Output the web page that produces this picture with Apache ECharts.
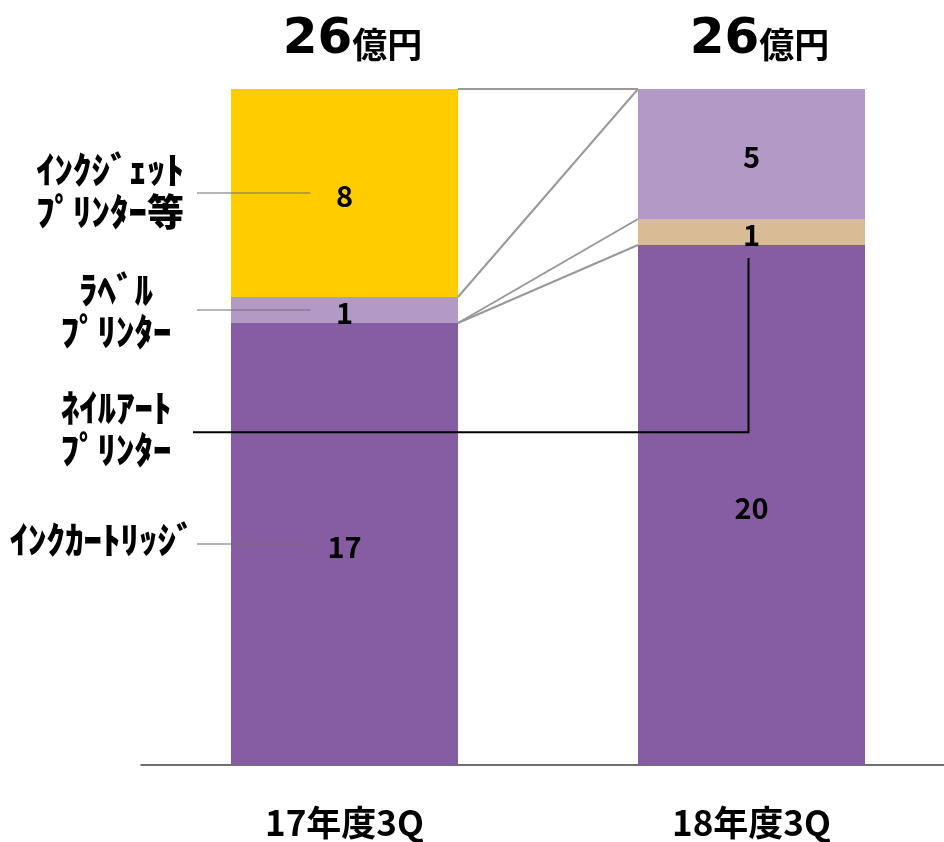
<!DOCTYPE html>
<html>
<head>
<meta charset="utf-8">
<script src="https://cdn.jsdelivr.net/npm/echarts@6/dist/echarts.min.js"></script>
<style>
  html, body { margin: 0; padding: 0; background: #fff; }
  #chart { width: 944px; height: 842px; }
</style>
</head>
<body>
<div id="chart"></div>
<script>
const categories = ['17年度3Q', '18年度3Q']
const cartridge = [17, 20]
const nailArt = ['-', 1]
const labelPrinter = [1, 5]
const inkjet = [8, '-']
const totalLabel = '億円'

const FONT = 'Noto Sans CJK JP'
const BAR_W = 227

const chart = echarts.init(document.getElementById('chart'))

function seg (name, data, color) {
  return {
    name: name,
    type: 'bar',
    stack: 'total',
    barWidth: BAR_W,
    data: data,
    itemStyle: { color: color },
    label: {
      show: true,
      position: 'inside',
      color: '#000',
      fontFamily: FONT,
      fontWeight: 'bold',
      fontSize: 29,
      offset: [0, 3]
    },
    emphasis: { disabled: true }
  }
}

chart.setOption({
  animation: false,
  grid: { left: 141, right: -11, top: 89, bottom: 77, outerBoundsMode: 'none', containLabel: false },
  xAxis: {
    type: 'category',
    data: categories,
    axisTick: { show: false },
    axisLine: { lineStyle: { color: '#404040', width: 1.5 } },
    axisLabel: {
      margin: 40,
      color: '#000',
      fontFamily: FONT,
      fontWeight: 'bold',
      fontSize: 35
    }
  },
  yAxis: { type: 'value', min: 0, max: 26, show: false, splitLine: { show: false } },
  series: [
    seg('インクカートリッジ', cartridge, '#865CA2'),
    seg('ネイルアートプリンター', nailArt, '#D9BB95'),
    seg('ラベルプリンター', labelPrinter, '#B399C6'),
    seg('インクジェットプリンター等', inkjet, '#FFCC00')
  ]
})

function px (ci, v) {
  return chart.convertToPixel({ gridIndex: 0 }, [ci, v])
}
function num (v) { return v === '-' ? 0 : v }

const stacks = [cartridge, nailArt, labelPrinter, inkjet]
function cum (ci) {
  let s = 0
  const out = []
  stacks.forEach(function (arr) {
    if (arr[ci] !== '-') { s += num(arr[ci]); out.push(s) }
  })
  return out
}
const leftCum = cum(0)
const rightCum = cum(1)
const half = BAR_W / 2

const graphics = []
const gray = '#999'

// connecting lines between bars
const pairs = [
  [leftCum[2], rightCum[2]],
  [leftCum[1], rightCum[2]],
  [leftCum[0], rightCum[1]],
  [leftCum[0], rightCum[0]]
]
pairs.forEach(function (p) {
  const a = px(0, p[0])
  const b = px(1, p[1])
  graphics.push({
    type: 'line',
    z: 100,
    shape: { x1: a[0] + half, y1: a[1], x2: b[0] - half, y2: b[1] },
    style: { stroke: gray, lineWidth: 2 }
  })
})

// totals above bars
categories.forEach(function (c, ci) {
  const total = stacks.reduce(function (s, arr) { return s + num(arr[ci]) }, 0)
  const p = px(ci, total)
  graphics.push({
    type: 'text',
    z: 100,
    x: p[0] + 8,
    y: p[1] - 49,
    style: {
      text: '{a|' + total + '}{b|' + totalLabel + '}',
      align: 'center',
      verticalAlign: 'middle',
      rich: {
        a: { fontFamily: 'DejaVu Sans', fontWeight: 'bold', fontSize: 50, fill: '#000' },
        b: { fontFamily: FONT, fontWeight: 'bold', fontSize: 35, fill: '#000', padding: [10, 0, 0, 0] }
      }
    }
  })
})

// leader lines from left labels
const leaderYs = [
  (leftCum[1] + leftCum[2]) / 2,
  (leftCum[0] + leftCum[1]) / 2,
  leftCum[0] / 2
]
leaderYs.forEach(function (v) {
  const p = px(0, v)
  graphics.push({
    type: 'line',
    z: 100,
    shape: { x1: 197, y1: p[1], x2: p[0] - 34, y2: p[1] },
    style: { stroke: '#6f6f6f', lineWidth: 1.2 }
  })
})

// nail art leader
const n1 = px(1, 12.8)
const n2 = px(1, 19.5)
graphics.push({
  type: 'polyline',
  z: 100,
  shape: { points: [[193, n1[1]], [n1[0] - 3, n1[1]], [n2[0] - 3, n2[1]]] },
  style: { stroke: '#000', lineWidth: 2, fill: null }
})

// category names on the left
const names = [
  { text: 'ｲﾝｸｼﾞｪｯﾄ\nﾌﾟﾘﾝﾀｰ等', x: 110, y: 191 },
  { text: 'ﾗﾍﾞﾙ\nﾌﾟﾘﾝﾀｰ', x: 116, y: 311 },
  { text: 'ﾈｲﾙｱｰﾄ\nﾌﾟﾘﾝﾀｰ', x: 116, y: 429 },
  { text: 'ｲﾝｸｶｰﾄﾘｯｼﾞ', x: 102, y: 540 }
]
names.forEach(function (n) {
  graphics.push({
    type: 'text',
    z: 100,
    x: n.x,
    y: n.y,
    style: {
      text: n.text,
      align: 'center',
      verticalAlign: 'middle',
      fontFamily: FONT,
      fontWeight: 900,
      fontSize: 37,
      lineHeight: 42,
      fill: '#000'
    }
  })
})

chart.setOption({ graphic: graphics })
</script>
</body>
</html>
